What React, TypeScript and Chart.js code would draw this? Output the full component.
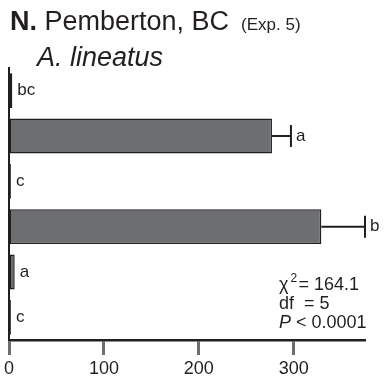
import { useEffect, useRef } from 'react';
import { Chart, registerables } from 'chart.js';

Chart.register(...registerables);

// Trap catches per treatment (horizontal bars, top to bottom)
const treatments = ['T1', 'T2', 'T3', 'T4', 'T5', 'T6'];
const catches = [3.5, 277, 2, 329, 6, 2];
const catchErrors = [0, 20, 0, 46, 0, 0];
const letters = ['bc', 'a', 'c', 'b', 'a', 'c'];
const xTicks = [0, 100, 200, 300];
const xMax = 375;

const panelLabel = 'N.';
const siteLabel = 'Pemberton, BC';
const expLabel = '(Exp. 5)';
const speciesLabel = 'A. lineatus';
const statsLines = ['= 164.1', 'df  = 5', '< 0.0001'];

const FONT = '"Liberation Sans", Arial, Helvetica, sans-serif';
const INK = '#231f20';

const annotations = {
  id: 'annotations',
  afterDatasetsDraw(chart: any) {
    const ctx = chart.ctx;
    const xs = chart.scales.x;
    const meta = chart.getDatasetMeta(0);
    ctx.save();
    ctx.strokeStyle = INK;
    ctx.fillStyle = INK;
    ctx.lineWidth = 2;
    meta.data.forEach((bar: any, i: number) => {
      const y = bar.y;
      const end = catches[i] + catchErrors[i];
      const xb = xs.getPixelForValue(catches[i]);
      const xe = xs.getPixelForValue(end);
      if (catchErrors[i] > 0) {
        ctx.beginPath();
        ctx.moveTo(xb, y);
        ctx.lineTo(xe, y);
        ctx.moveTo(xe, y - 11);
        ctx.lineTo(xe, y + 11);
        ctx.stroke();
      }
      ctx.font = `17px ${FONT}`;
      ctx.textBaseline = 'middle';
      ctx.textAlign = 'left';
      ctx.fillText(letters[i], xe + 5, y);
    });

    // title
    ctx.textBaseline = 'alphabetic';
    let x = 10;
    const base = 30;
    ctx.font = `bold 27px ${FONT}`;
    ctx.fillText(panelLabel, x, base);
    x += ctx.measureText(panelLabel + ' ').width;
    ctx.font = `27px ${FONT}`;
    ctx.fillText(siteLabel, x, base);
    x += ctx.measureText(siteLabel).width + 12;
    ctx.font = `17px ${FONT}`;
    ctx.fillText(expLabel, x, base);

    ctx.font = `italic 27px ${FONT}`;
    ctx.fillText(speciesLabel, 37, 66);

    // statistics
    const sx = 279;
    ctx.font = `18px ${FONT}`;
    ctx.fillText('χ', sx, 290);
    const cw = ctx.measureText('χ').width;
    ctx.font = `12px ${FONT}`;
    ctx.fillText('2', sx + cw + 2, 282);
    ctx.font = `18px ${FONT}`;
    ctx.fillText(statsLines[0], sx + cw + 10, 290);
    ctx.fillText(statsLines[1], sx, 309);
    ctx.font = `italic 18px ${FONT}`;
    ctx.fillText('P', sx, 328);
    const pw = ctx.measureText('P ').width;
    ctx.font = `18px ${FONT}`;
    ctx.fillText(statsLines[2], sx + pw, 328);
    ctx.restore();
  },
};

export default function App() {
  const ref = useRef<HTMLCanvasElement>(null);
  useEffect(() => {
    document.body.style.margin = '0';
    const chart = new Chart(ref.current!, {
      type: 'bar',
      data: {
        labels: treatments,
        datasets: [
          {
            data: catches,
            backgroundColor: '#6d6e71',
            borderColor: INK,
            borderWidth: 1.5,
            borderSkipped: false,
            categoryPercentage: 1,
            barPercentage: 0.77,
          },
        ],
      },
      options: {
        indexAxis: 'y',
        animation: false,
        responsive: false,
        layout: { padding: { left: 9, right: 21, top: 68, bottom: 0 } },
        plugins: { legend: { display: false }, tooltip: { enabled: false }, title: { display: false } },
        scales: {
          x: {
            min: 0,
            max: xMax,
            afterBuildTicks: (s: any) => {
              s.ticks = xTicks.map((v) => ({ value: v }));
            },
            afterFit: (s: any) => {
              s.height = 40;
            },
            grid: {
              drawOnChartArea: false,
              drawTicks: true,
              tickLength: 15,
              tickColor: '#6d6e71',
              tickWidth: 3,
            },
            border: { display: true, color: INK, width: 2.5 },
            ticks: { color: INK, font: { family: FONT, size: 18 }, padding: 3 },
          },
          y: {
            afterFit: (s: any) => {
              s.width = 0;
            },
            grid: { display: false, drawTicks: false },
            border: { display: true, color: INK, width: 2 },
            ticks: { display: false },
          },
        },
      },
      plugins: [annotations],
    });
    return () => chart.destroy();
  }, []);
  return <canvas ref={ref} width={386} height={380} style={{ display: 'block' }} />;
}
